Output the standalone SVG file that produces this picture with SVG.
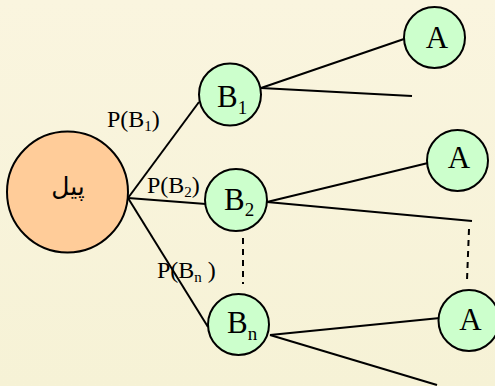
<svg xmlns="http://www.w3.org/2000/svg" width="495" height="386" viewBox="0 0 495 386">
<defs>
<linearGradient id="bg" x1="0" y1="0" x2="0" y2="1">
<stop offset="0" stop-color="#FAF5DF"/>
<stop offset="1" stop-color="#F6F2D6"/>
</linearGradient>
<style>
.edge{stroke:#000;stroke-width:2;fill:none}
.dash{stroke:#000;stroke-width:2;fill:none;stroke-dasharray:6 5}
.g{fill:#CCFFCC;stroke:#000;stroke-width:2}
.o{fill:#FFCC99;stroke:#000;stroke-width:2}
.t{font-family:"Liberation Serif","Times New Roman",serif;fill:#000}
.big{font-size:31px}
.lab{font-size:24px}
</style>
</defs>
<rect width="495" height="386" fill="url(#bg)"/>
<g id="connectors">
<line class="edge" x1="128" y1="198" x2="199" y2="102"/>
<line class="edge" x1="128" y1="198" x2="206" y2="204"/>
<line class="edge" x1="128" y1="198" x2="208" y2="327"/>
<line class="edge" x1="261" y1="88" x2="404" y2="39"/>
<line class="edge" x1="261" y1="88" x2="412" y2="96"/>
<line class="edge" x1="267" y1="202" x2="428" y2="163"/>
<line class="edge" x1="267" y1="202" x2="472" y2="221"/>
<line class="edge" x1="270" y1="335" x2="440" y2="318"/>
<line class="edge" x1="270" y1="335" x2="437" y2="385"/>
<line class="dash" x1="243" y1="238" x2="243" y2="284"/>
<line class="dash" x1="469" y1="229" x2="467" y2="280"/>
<text class="t lab" x="107" y="127">P(B<tspan font-size="15" dy="4">1</tspan><tspan dy="-4">)</tspan></text>
<text class="t lab" x="147" y="193">P(B<tspan font-size="15" dy="4">2</tspan><tspan dy="-4">)</tspan></text>
<text class="t lab" x="157" y="278">P(B<tspan font-size="15" dy="4">n</tspan><tspan dy="-4"> )</tspan></text>
</g>
<g id="root">
<circle class="o" cx="67.5" cy="192" r="60.5"/>
<text x="68" y="195" font-family="'DejaVu Sans','Noto Sans',sans-serif" font-size="25" text-anchor="middle" direction="rtl">پیل</text>
</g>
<g id="B1">
<circle class="g" cx="230" cy="94.5" r="31"/>
<text class="t big" x="217" y="107">B<tspan font-size="19" dy="7">1</tspan></text>
</g>
<g id="B2">
<circle class="g" cx="236" cy="200" r="31"/>
<text class="t big" x="224" y="210">B<tspan font-size="19" dy="6">2</tspan></text>
</g>
<g id="Bn">
<circle class="g" cx="238.5" cy="324.5" r="30.5"/>
<text class="t big" x="227" y="333">B<tspan font-size="19" dy="7">n</tspan></text>
</g>
<g id="A1">
<circle class="g" cx="434.5" cy="37.5" r="30.5"/>
<text class="t big" x="437" y="48" text-anchor="middle">A</text>
</g>
<g id="A2">
<circle class="g" cx="457.5" cy="160.5" r="30.5"/>
<text class="t big" x="459" y="168" text-anchor="middle">A</text>
</g>
<g id="A3">
<circle class="g" cx="469" cy="320.5" r="30.5"/>
<text class="t big" x="470.5" y="330" text-anchor="middle">A</text>
</g>
</svg>
